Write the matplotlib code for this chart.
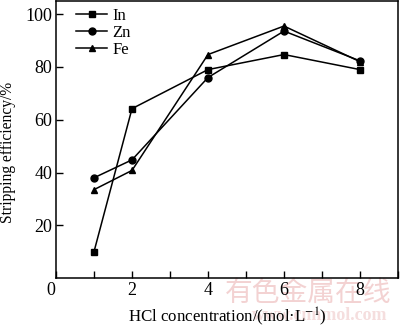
import matplotlib
matplotlib.use("Agg")
import matplotlib.pyplot as plt
from matplotlib.ticker import MultipleLocator

plt.rcParams['font.family'] = ['Liberation Serif', 'DejaVu Serif']
plt.rcParams['mathtext.fontset'] = 'stix'

# HCl concentration (mol/L)
conc = [1, 2, 4, 6, 8]
# stripping efficiency (%)
eff_in = [10, 64.2, 79, 84.7, 79]
eff_zn = [38, 44.8, 76, 93.6, 82.3]
eff_fe = [33.5, 40.8, 84.7, 95.5, 82]

fig = plt.figure(figsize=(4.0, 3.26), dpi=100)
ax = fig.add_axes([0.14, 0.147, 0.855, 0.85])
ax.patch.set_alpha(0)

ax.plot(conc, eff_in, 'k-', marker='s', ms=4.5, lw=1.1, label='In')
ax.plot(conc, eff_zn, 'k-', marker='o', ms=5, lw=1.1, label='Zn')
ax.plot(conc, eff_fe, 'k-', marker='^', ms=5, lw=1.1, label='Fe')

ax.set_xlim(0, 9)
ax.set_ylim(0, 105)
ax.xaxis.set_minor_locator(MultipleLocator(1))
ax.set_yticks([20, 40, 60, 80, 100])
ax.set_xticks([2, 4, 6, 8])
ax.tick_params(which='both', direction='in', labelsize=13, width=1, pad=2.5)
ax.tick_params(which='major', length=5)
ax.tick_params(which='minor', length=5)
ax.annotate('0', xy=(0, 0), xytext=(-4, -3), textcoords='offset points',
            fontsize=13, ha='center', va='top')
for s in ax.spines.values():
    s.set_linewidth(1.1)

ax.set_xlabel('HCl concentration/(mol\u00b7L$^{-1}$)', fontsize=12.2, labelpad=5)
ax.set_ylabel('Stripping efficiency/%', fontsize=11.2)
ax.yaxis.set_label_coords(-0.118, 0.455)

leg = ax.legend(loc='upper left', frameon=False, fontsize=12, handlelength=1.85,
                handletextpad=0.3, labelspacing=0.08, borderaxespad=0.0,
                bbox_to_anchor=(0.04, 1.0))

# faint watermark, kept behind the axes
fig.text(0.77, 0.1, '有色金属在线', fontsize=20, color='#f3d2d2',
         family=['Noto Sans CJK SC'], ha='center', va='center', zorder=-1)
fig.text(0.8, 0.005, 'www.cnnmol.com', fontsize=13, color='#f5dede',
         ha='center', va='bottom', zorder=-1, weight='bold')

fig.savefig('out.png', dpi=100)
